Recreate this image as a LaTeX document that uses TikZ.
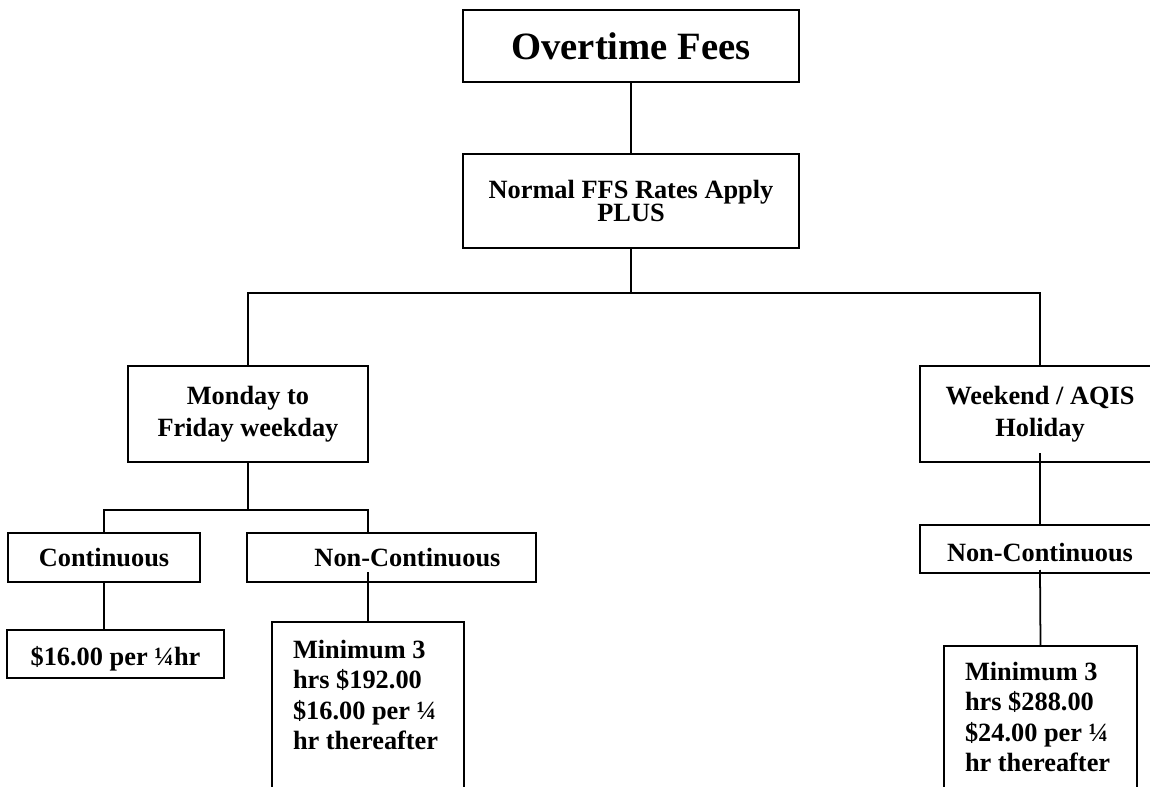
\documentclass[tikz,border=0pt]{standalone}
\usepackage{fontspec}
\setmainfont{Liberation Serif}
\begin{document}
\begin{tikzpicture}[x=0.02cm,y=-0.02cm,line width=1pt,
                box/.style={draw,inner sep=0pt,align=center,font=\bfseries\fontsize{15}{18}\selectfont},
                txt/.style={inner sep=0pt,align=left,font=\bfseries\fontsize{15}{17.4}\selectfont}]
                \useasboundingbox (0,0) rectangle (1150,787);
                \clip (0,0) rectangle (1150,787);

                \node[box,minimum width=6.72cm,minimum height=1.44cm,font=\bfseries\fontsize{22}{26}\selectfont] (title) at (631,46) {Overtime Fees};
                \node[box,minimum width=6.72cm,minimum height=1.88cm,font=\bfseries\fontsize{15}{13.6}\selectfont] (rates) at (631,201) {Normal FFS Rates Apply\\PLUS};

                \node[box,minimum width=4.8cm,minimum height=1.92cm] (mon) at (248,414) {Monday to\\Friday weekday};
                \node[box,minimum width=4.8cm,minimum height=1.92cm] (wkd) at (1040,414) {Weekend / AQIS\\Holiday};

                \node[box,minimum width=3.84cm,minimum height=0.98cm] (cont) at (104,557.5) {Continuous};
                \node[box,minimum width=5.78cm,minimum height=0.98cm] (nc1) at (391.5,557.5) {\hspace*{0.64cm}Non-Continuous};
                \node[box,minimum width=4.8cm,minimum height=0.96cm] (nc2) at (1040,549) {\raisebox{-0.08cm}[\height][\depth]{Non-Continuous}};

                \node[box,minimum width=4.34cm,minimum height=0.96cm] (fee1) at (115.5,654) {\raisebox{-0.1cm}[\height][\depth]{\$16.00 per ¼hr}};
                \node[box,anchor=north,minimum width=3.84cm,minimum height=4cm] (min1) at (368,621) {};
                \node[box,anchor=north,minimum width=3.86cm,minimum height=4cm] (min2) at (1040.5,645) {};
                \node[txt,anchor=north west] (t1) at ([xshift=0.42cm,yshift=-0.36cm]min1.north west) {Minimum 3\\hrs \$192.00\\\$16.00 per ¼\\hr thereafter};
                \node[txt,anchor=north west] (t2) at ([xshift=0.42cm,yshift=-0.32cm]min2.north west) {Minimum 3\\hrs \$288.00\\\$24.00 per ¼\\hr thereafter};

                \coordinate (j1) at (631,293);
                \coordinate (j2) at (248,510);
                \coordinate (nc1in) at (368,572);
                \coordinate (wkdin) at (1040,453);
                \coordinate (nc2in) at (1040,570);

                \draw (title) -- (rates);
                \draw (rates.south) -- (j1);
                \draw (mon.north) |- (j1) -| (wkd.north);
                \draw (mon.south) -- (j2);
                \draw (cont.north) |- (j2) -| (nc1in |- nc1.north);
                \draw (nc1in) -- (min1.north);
                \draw (cont.south) -- (cont.south |- fee1.north);
                \draw (wkdin) -- (nc2.north);
                \draw (nc2in) -- (min2.north);
            \end{tikzpicture}
\end{document}
